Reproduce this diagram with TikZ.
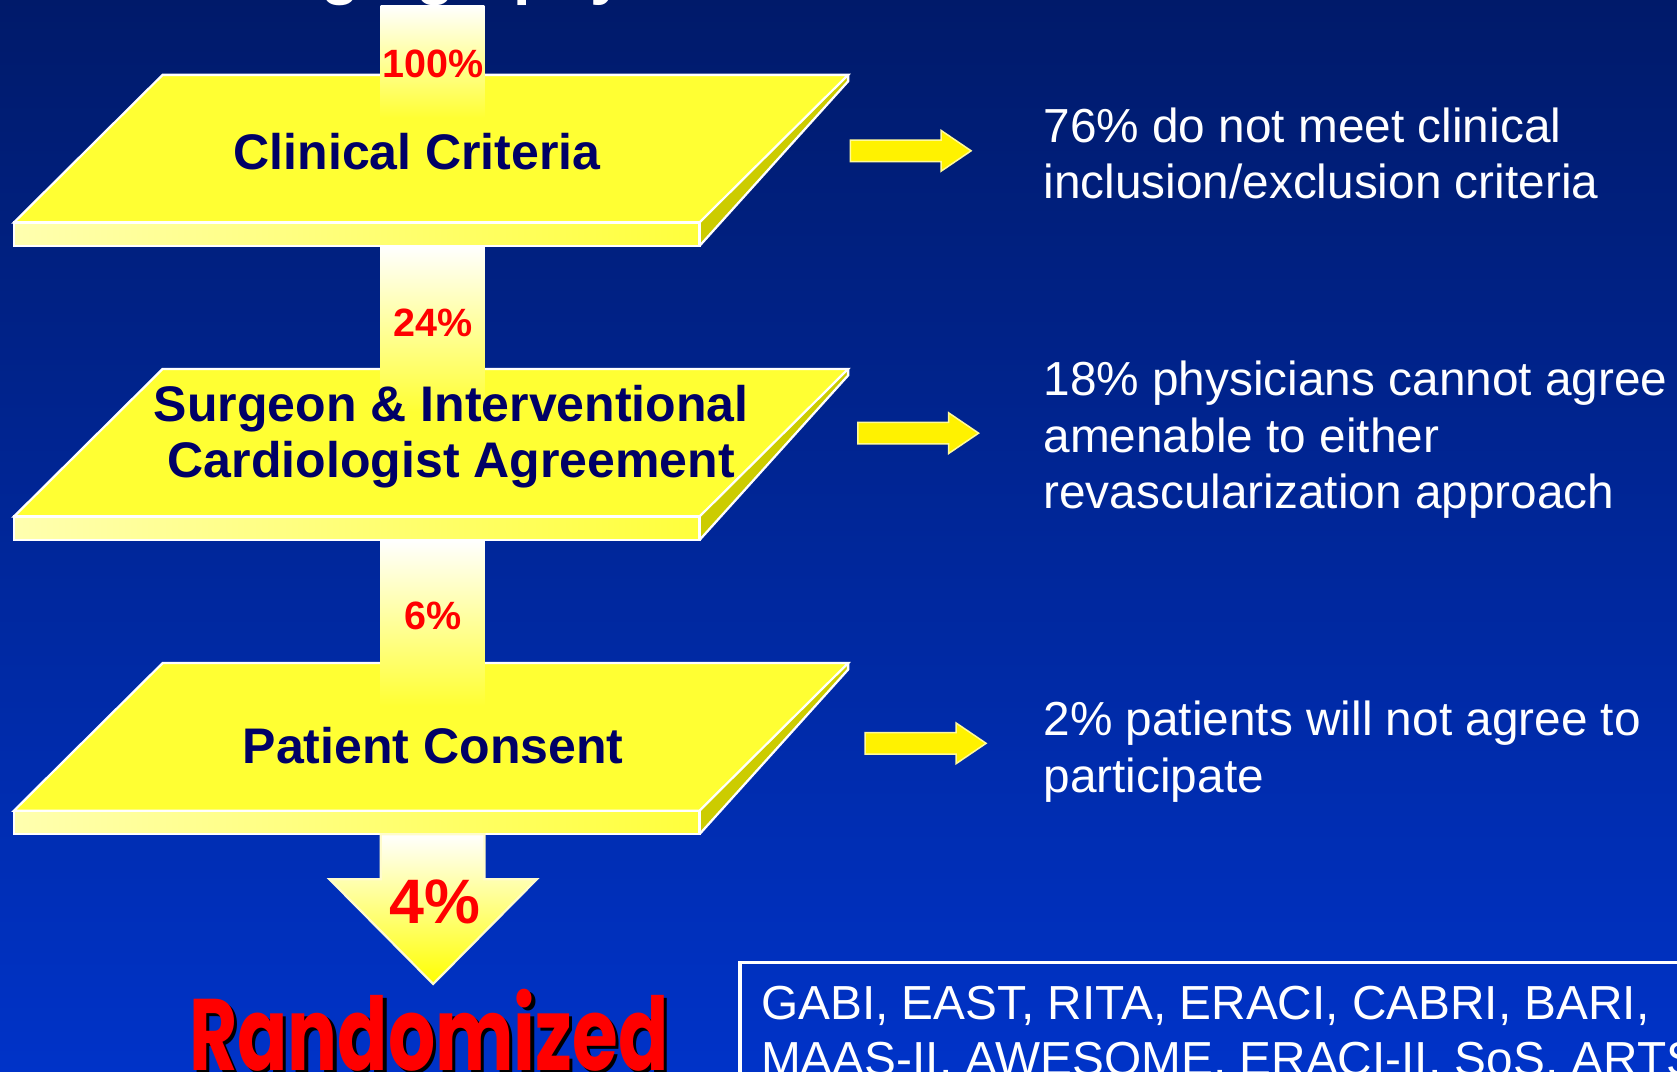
\documentclass[tikz,border=0pt]{standalone}
\usepackage{fontspec}
\setmainfont{Liberation Sans}
\newfontfamily\roundfont{Poppins}
\usetikzlibrary{calc}

\definecolor{bgtop}{RGB}{0,26,106}
\definecolor{bgbot}{RGB}{0,51,200}
\definecolor{navytext}{RGB}{0,0,102}
\definecolor{slabtop}{RGB}{255,255,51}
\definecolor{slabside}{RGB}{204,204,0}
\definecolor{frontleft}{RGB}{255,255,175}
\definecolor{frontright}{RGB}{255,255,60}
\definecolor{pctred}{RGB}{255,0,0}

\tikzset{
  boxlabel/.style={font=\bfseries\fontsize{13.3}{14.8}\selectfont, text=navytext, align=center, inner sep=0pt},
  pct/.style={font=\bfseries\fontsize{10.5}{12}\selectfont, text=pctred, inner sep=0pt},
  sidetext/.style={font=\fontsize{12.7}{15.0}\selectfont, text=white, align=left, anchor=north west, inner sep=0pt},
  outline/.style={draw=white, line width=0.6pt},
  result/.style={font=\roundfont\bfseries\fontsize{27}{30}\selectfont, anchor=base, xscale=0.73, inner sep=0pt}
}

\begin{document}
\begin{tikzpicture}[x=0.01cm, y=-0.01cm]
  \useasboundingbox (0,0) rectangle (1568,1002);
  \clip (0,0) rectangle (1568,1002);

  % Background
  \shade[top color=bgtop, bottom color=bgbot] (0,0) rectangle (1568,1002);

  % Title, cut off at the top
  \node[font=\bfseries\fontsize{16.7}{20}\selectfont, text=white, anchor=base west, inner sep=0pt] (title) at (222,-7) {Angiography};

  % Slabs
  \foreach \t in {70,345,620} {
    \fill[slabtop] (152,\t) -- (793,\t) -- (654,\t+138) -- (13,\t+138) -- cycle;
    \shade[left color=frontleft, right color=frontright] (13,\t+138) rectangle (654,\t+160);
    \fill[slabside] (793,\t) -- (793,\t+6) -- (654,\t+160) -- (654,\t+138) -- cycle;
    \draw[outline] (152,\t) -- (793,\t) -- (654,\t+138) -- (13,\t+138) -- cycle;
    \draw[outline] (13,\t+138) rectangle (654,\t+160);
    \draw[outline] (793,\t) -- (793,\t+6) -- (654,\t+160);
  }

  % Flow column
  \shade[top color=white, bottom color=slabtop] (356,5) rectangle (453,110);
  \shade[top color=white, bottom color=slabtop] (356,230) rectangle (453,385);
  \shade[top color=white, bottom color=slabtop] (356,505) rectangle (453,660);

  % Down arrow
  \shade[top color=white, bottom color=yellow, draw=white!80!yellow, line width=0.6pt]
    (356,780) -- (453,780) -- (453,822) -- (502,822) -- (405,920) -- (308,822) -- (356,822) -- cycle;

  % Side arrows
  \foreach \x/\y in {795/141, 802/405, 809/695} {
    \fill[yellow, draw=white!60!yellow, line width=0.4pt]
      (\x,\y-10) -- (\x+85,\y-10) -- (\x+85,\y-19) -- (\x+113,\y) -- (\x+85,\y+19) -- (\x+85,\y+10) -- (\x,\y+10) -- cycle;
  }

  % Labels
  \node[boxlabel] (clinical) at (390,142) {Clinical Criteria};
  \node[boxlabel] (agree) at (422,408) {Surgeon \& Interventional\\Cardiologist Agreement};
  \node[boxlabel] (consent) at (405,697) {Patient Consent};

  \node[pct] (p100) at (405,60) {100\%};
  \node[pct] (p24) at (405,302) {24\%};
  \node[pct] (p6) at (405,576) {6\%};
  \node[pct, font=\bfseries\fontsize{16.7}{18}\selectfont] (p4) at (407,843) {4\%};

  % Result
  \node[result, text=black] (randshadow) at (404,1004) {Randomized};
  \node[result, text=pctred] (rand) at (401,1001) {Randomized};

  % Reasons
  \node[sidetext] (drop1) at (975,100) {76\% do not meet clinical\\inclusion/exclusion criteria};
  \node[sidetext] (drop2) at (975,337) {18\% physicians cannot agree\\amenable to either\\revascularization approach};
  \node[sidetext] (drop3) at (975,655) {2\% patients will not agree to\\participate};

  % Trials
  \draw[white, line width=1pt] (692,900) rectangle (1600,1100);
  \node[sidetext] (trials) at (711,921) {GABI, EAST, RITA, ERACI, CABRI, BARI,\\MAAS-II, AWESOME, ERACI-II, SoS, ARTS};
\end{tikzpicture}
\end{document}
